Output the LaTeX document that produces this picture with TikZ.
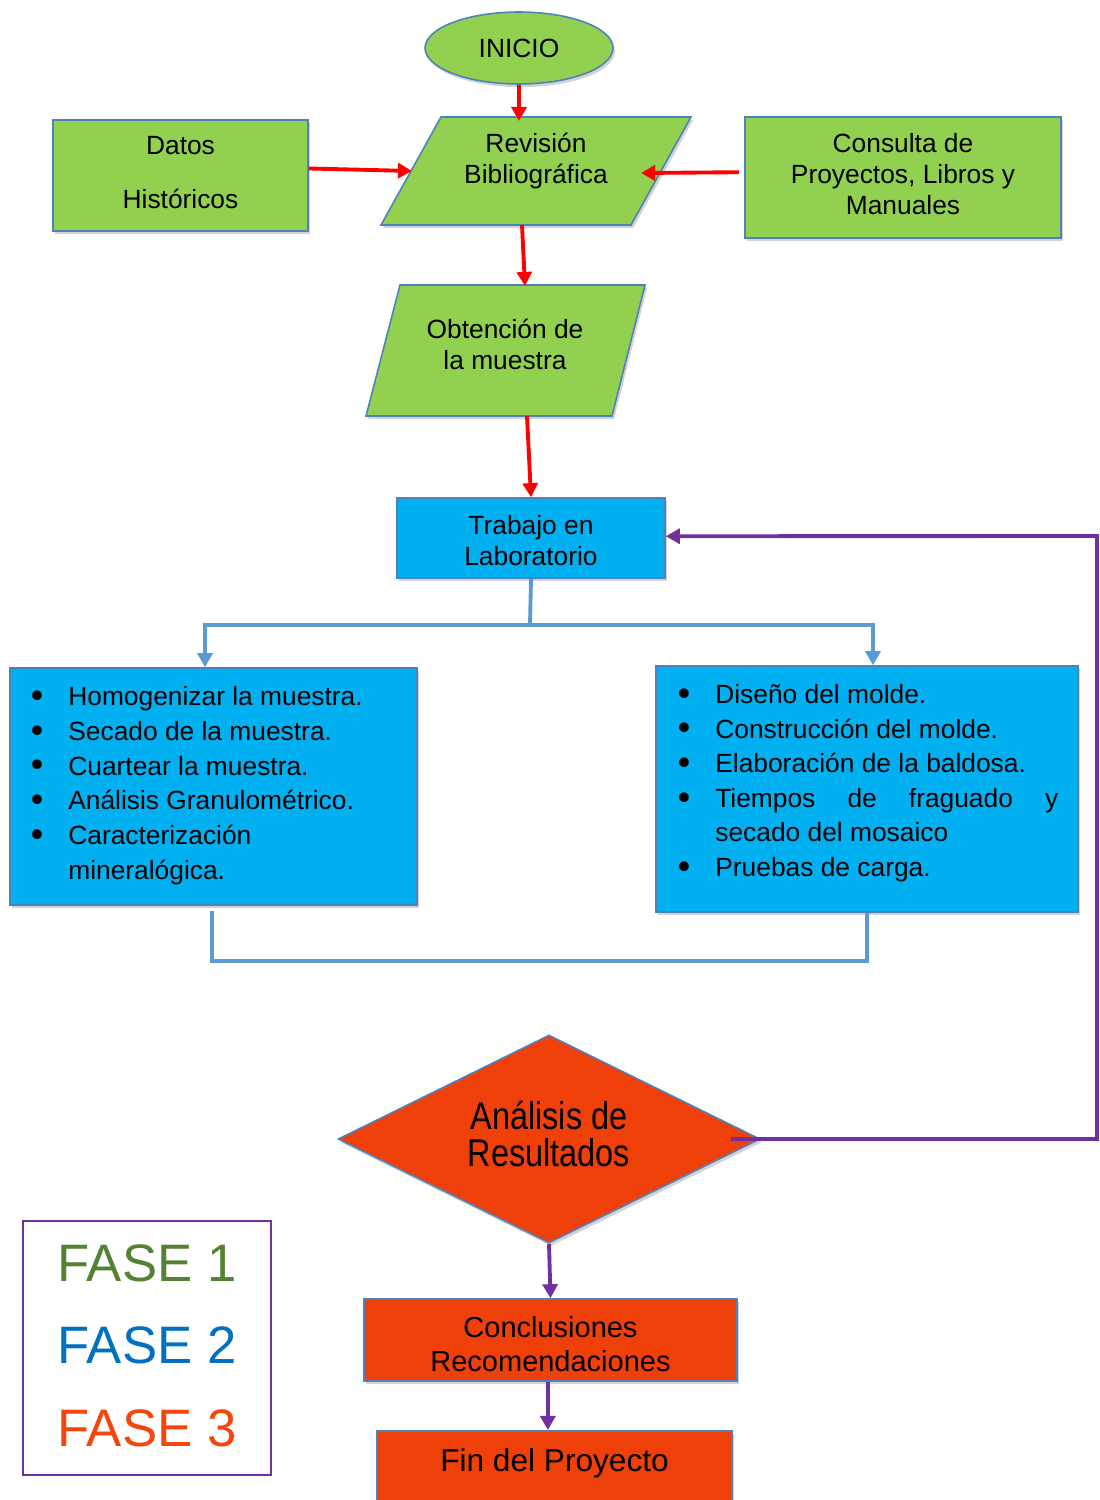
\documentclass[tikz,border=0pt]{standalone}
\usepackage{fontspec}
\setmainfont{Liberation Sans}
\newfontfamily\narrowfont[FakeStretch=0.84]{Liberation Sans}
\usetikzlibrary{shapes.geometric,shadows,arrows.meta,calc}
\definecolor{fgreen}{RGB}{146,208,80}
\definecolor{fblue}{RGB}{0,176,240}
\definecolor{fred}{RGB}{240,64,10}
\definecolor{bord}{RGB}{79,129,189}
\definecolor{lblue}{RGB}{91,155,213}
\definecolor{purp}{RGB}{112,48,160}
\definecolor{faseone}{RGB}{84,130,53}
\definecolor{fasetwo}{RGB}{0,112,192}
\definecolor{fasethree}{RGB}{244,70,12}
\newcommand\fcbullet{\makebox[0.75cm][l]{\raisebox{-1pt}{\scalebox{1.35}{•}}}}
\newcommand\lifttext[2]{\raisebox{#1}[\height][\depth]{\begin{tabular}{@{}c@{}}#2\end{tabular}}}
\begin{document}
\begin{tikzpicture}[x=0.02cm,y=-0.02cm,
  shd/.style={drop shadow={shadow xshift=1.2pt,shadow yshift=-1.8pt,opacity=0.35}},
  box/.style={draw=bord,line width=0.9pt,shd,text=black,align=center,font=\fontsize{15}{17.6}\selectfont},
  gbox/.style={box,fill=fgreen},
  bbox/.style={box,fill=fblue},
  rbox/.style={box,fill=fred},
  txt/.style={align=center,text=black,font=\fontsize{15}{17.6}\selectfont},
  listtxt/.style={align=left,inner sep=0pt,text=black,font=\fontsize{15}{19.7}\selectfont},
  tip/.style={-{Triangle[length=8pt,width=8.5pt]}},
  redarr/.style={draw=red,line width=2.2pt,tip},
  bluearr/.style={draw=lblue,line width=2.2pt,tip},
  blueln/.style={draw=lblue,line width=2.2pt},
  purarr/.style={draw=purp,line width=2.2pt,tip},
  fase/.style={font=\fontsize{30}{36}\selectfont}
]
\clip (0,0) rectangle (1099,1500);

% ---------- Phase 1 ----------
\node[gbox,ellipse,minimum width=3.76cm,minimum height=1.44cm] (inicio) at (519,48) {INICIO};

\filldraw[draw=bord,line width=0.9pt,fill=fgreen,shd] (441,117) -- (691,117) -- (631,225) -- (381,225) -- cycle;
\node[txt] (rev) at (536,161) {Revisión\\Bibliográfica};
\coordinate (revT) at (519,121);
\coordinate (revL) at (412,171);
\coordinate (revR) at (641,173);
\coordinate (revB) at (522,225);

\node[gbox,minimum width=5.1cm,minimum height=2.22cm] (datos) at (180.5,175.5) {\lifttext{0.1pt}{Datos\\[12.6pt]Históricos}};
\node[gbox,minimum width=6.32cm,minimum height=2.42cm] (consulta) at (903,177.5) {\lifttext{0.1pt}{Consulta de\\Proyectos, Libros y\\Manuales}};

\filldraw[draw=bord,line width=0.9pt,fill=fgreen,shd] (400,285) -- (645,285) -- (612,416) -- (366,416) -- cycle;
\node[txt] (obt) at (505,344.5) {Obtención de\\la muestra};
\coordinate (obtT) at (525,286);
\coordinate (obtB) at (527,416);

\draw[redarr] (inicio.south) -- (revT);
\draw[redarr] ([yshift=4pt]datos.east) -- (revL);
\draw[redarr] ([xshift=-3pt,yshift=3pt]consulta.west) -- (revR);
\draw[redarr] (revB) -- (obtT);

% ---------- Phase 2 ----------
\node[bbox,minimum width=5.36cm,minimum height=1.6cm] (trabajo) at (531,538) {\lifttext{-3.4pt}{Trabajo en\\Laboratorio}};
\draw[redarr] (obtB) -- (trabajo.north);

\node[bbox,minimum width=8.14cm,minimum height=4.74cm] (leftbox) at (213.5,786.5) {};
\node[listtxt,anchor=north west] (leftlist) at (30.5,686.5) {\fcbullet Homogenizar la muestra.\\
\fcbullet Secado de la muestra.\\
\fcbullet Cuartear la muestra.\\
\fcbullet Análisis Granulométrico.\\
\fcbullet Caracterización\\
\hspace*{0.75cm}mineralógica.};

\node[bbox,minimum width=8.44cm,minimum height=4.92cm] (rightbox) at (867,789) {};
\node[listtxt,anchor=north west] (rightlist) at (677.5,684) {\fcbullet Diseño del molde.\\
\fcbullet Construcción del molde.\\
\fcbullet Elaboración de la baldosa.\\
\fcbullet\makebox[6.86cm][s]{Tiempos de fraguado y}\\
\hspace*{0.75cm}secado del mosaico\\
\fcbullet Pruebas de carga.};

\coordinate (split) at (530,625);
\draw[blueln] (trabajo.south) -- (split);
\draw[bluearr] (split) -| ([xshift=-4.8pt]leftbox.north);
\draw[bluearr] (split) -| ([xshift=3.4pt]rightbox.north);

\coordinate (bracket) at (540,961);
\draw[blueln] ([xshift=-0.8pt,yshift=-3pt]leftbox.south) |- (bracket) -| (rightbox.south);

% ---------- Phase 3 ----------
\node[rbox,diamond,aspect=2,minimum width=8.44cm,minimum height=4.16cm,inner sep=0pt,font=\narrowfont\fontsize{22}{21}\selectfont] (analisis) at (549,1139) {\lifttext{-0.3pt}{Análisis de\\[-1.1pt]Resultados}};

\node[rbox,minimum width=7.46cm,minimum height=1.64cm,font=\fontsize{16.5}{19.3}\selectfont] (concl) at (550.5,1340) {\lifttext{-4.5pt}{Conclusiones\\Recomendaciones}};
\node[rbox,anchor=north,minimum width=7.1cm,minimum height=2cm,font=\fontsize{18}{21}\selectfont] (fin) at (554.5,1430) {\raisebox{0.34cm}[\height][\depth]{Fin del Proyecto}};

\coordinate (loopB) at (1097,1139);
\coordinate (loopT) at (1097,536);
\draw[purarr] ([xshift=-0.6cm]analisis.east) -- (loopB) -- (loopT) -- ([yshift=1pt]trabajo.east);
\draw[purarr] (analisis.south) -- (concl.north);
\draw[purarr] ([xshift=-1.5pt]concl.south) -- ([xshift=-1.5pt]concl.south |- fin.north);

% ---------- Legend ----------
\node[draw=purp,line width=1.2pt,minimum width=4.96cm,minimum height=5.08cm] (legend) at (147,1348) {};
\node[fase,text=faseone] (f1) at (147,1263) {FASE 1};
\node[fase,text=fasetwo] (f2) at (147,1345) {FASE 2};
\node[fase,text=fasethree] (f3) at (147,1428) {FASE 3};
\end{tikzpicture}
\end{document}
